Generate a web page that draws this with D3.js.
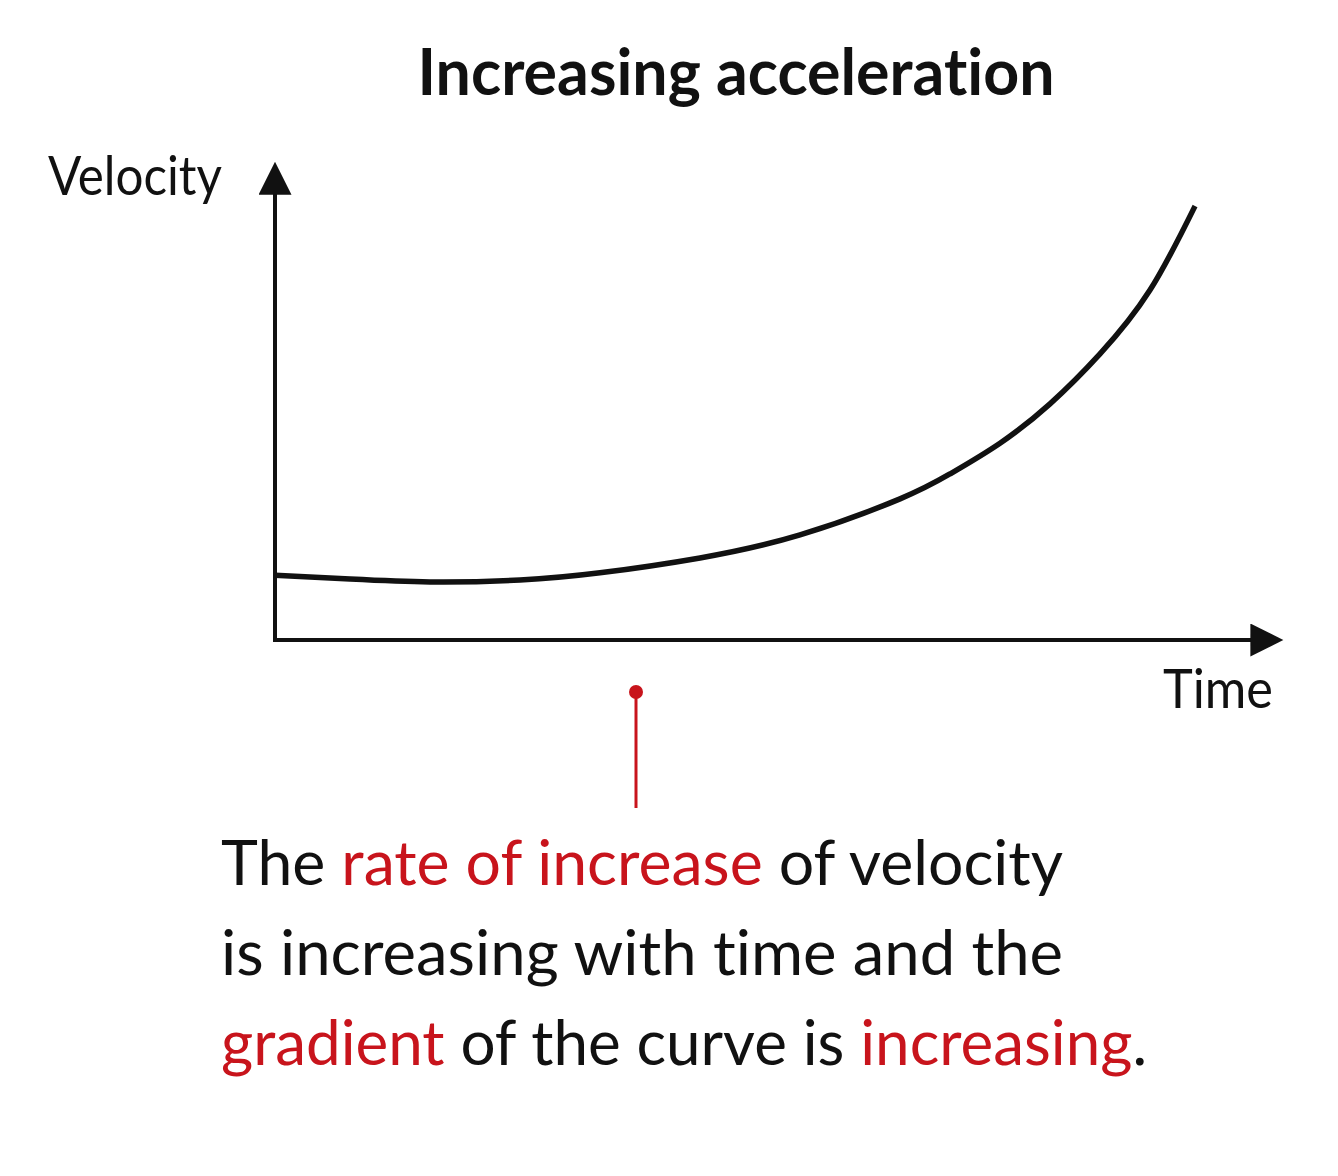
<!DOCTYPE html>
<html>
<head>
<meta charset="utf-8">
<script src="https://cdn.jsdelivr.net/npm/d3@7"></script>
<style>
body { margin: 0; background: #fff; }
svg { display: block; font-family: Lato, "Open Sans", sans-serif; font-variant-ligatures: none; }
</style>
</head>
<body>
<svg id="graph" width="1338" height="1176"></svg>
<script>
// curve (time, velocity in arbitrary units)
var time = [0, 0.75, 1.55, 2.45, 3.25, 4.25, 5.25, 6.25, 6.75, 7.25, 7.75, 8.25, 8.75, 9.2];
var velocity = [1.35, 1.27, 1.21, 1.25, 1.40, 1.71, 2.19, 2.94, 3.46, 4.10, 4.92, 5.96, 7.29, 9.04];

var title = "Increasing acceleration";
var yLabel = "Velocity";
var xLabel = "Time";
var markerTime = 3.61;

// explanation lines, [text, red?]
var note = [
  [["The ", false], ["rate of increase", true], [" of velocity", false]],
  [["is increasing with time and the", false]],
  [["gradient", true], [" of the curve is ", false], ["increasing", true], [".", false]]
];
var noteWidths = [842, 842, 926];

var RED = "#c8141c";
var INK = "#111";

var svg = d3.select("#graph");

var x = d3.scaleLinear().domain([0, 10]).range([275, 1275]);
var y = d3.scaleLinear().domain([0, 10]).range([640, 160]);

svg.append("defs").append("marker")
  .attr("id", "arrow")
  .attr("viewBox", "0 0 10 10")
  .attr("refX", 0.5).attr("refY", 5)
  .attr("markerUnits", "userSpaceOnUse")
  .attr("markerWidth", 38).attr("markerHeight", 33)
  .attr("orient", "auto")
  .append("path")
  .attr("d", "M0,0 L10,5 L0,10 Z")
  .attr("fill", INK);

// axes
svg.append("line")
  .attr("x1", x(0)).attr("y1", y(0) + 2)
  .attr("x2", x(0)).attr("y2", 193)
  .attr("stroke", INK).attr("stroke-width", 4)
  .attr("marker-end", "url(#arrow)");
svg.append("line")
  .attr("x1", x(0) - 2).attr("y1", y(0))
  .attr("x2", 1252).attr("y2", y(0))
  .attr("stroke", INK).attr("stroke-width", 4)
  .attr("marker-end", "url(#arrow)");

// curve
var pts = time.map(function(t, i) { return [t, velocity[i]]; });
svg.append("path")
  .datum(pts)
  .attr("fill", "none")
  .attr("stroke", INK)
  .attr("stroke-width", 5.5)
  .attr("d", d3.line()
    .x(function(d) { return x(d[0]); })
    .y(function(d) { return y(d[1]); })
    .curve(d3.curveNatural));

// labels
svg.append("text")
  .attr("x", 736).attr("y", 95)
  .attr("text-anchor", "middle")
  .attr("font-size", 65).attr("font-weight", "bold")
  .attr("fill", INK)
  .attr("textLength", 637).attr("lengthAdjust", "spacingAndGlyphs")
  .text(title);
svg.append("text")
  .attr("x", 48).attr("y", 195)
  .attr("font-size", 55).attr("fill", INK)
  .attr("textLength", 174).attr("lengthAdjust", "spacingAndGlyphs")
  .text(yLabel);
svg.append("text")
  .attr("x", 1163).attr("y", 708)
  .attr("font-size", 55).attr("fill", INK)
  .attr("textLength", 110).attr("lengthAdjust", "spacingAndGlyphs")
  .text(xLabel);

// red pointer
svg.append("line")
  .attr("x1", x(markerTime)).attr("y1", 692)
  .attr("x2", x(markerTime)).attr("y2", 808)
  .attr("stroke", RED).attr("stroke-width", 3);
svg.append("circle")
  .attr("cx", x(markerTime)).attr("cy", 692).attr("r", 7)
  .attr("fill", RED);

// explanation
svg.selectAll("text.note")
  .data(note)
  .enter()
  .append("text")
  .attr("class", "note")
  .attr("x", 221)
  .attr("y", function(d, i) { return 885 + i * 90; })
  .attr("font-size", 62)
  .attr("textLength", function(d, i) { return noteWidths[i]; })
  .attr("lengthAdjust", "spacingAndGlyphs")
  .each(function(d) {
    d3.select(this).selectAll("tspan")
      .data(d)
      .enter()
      .append("tspan")
      .attr("fill", function(s) { return s[1] ? RED : INK; })
      .text(function(s) { return s[0]; });
  });
</script>
</body>
</html>
